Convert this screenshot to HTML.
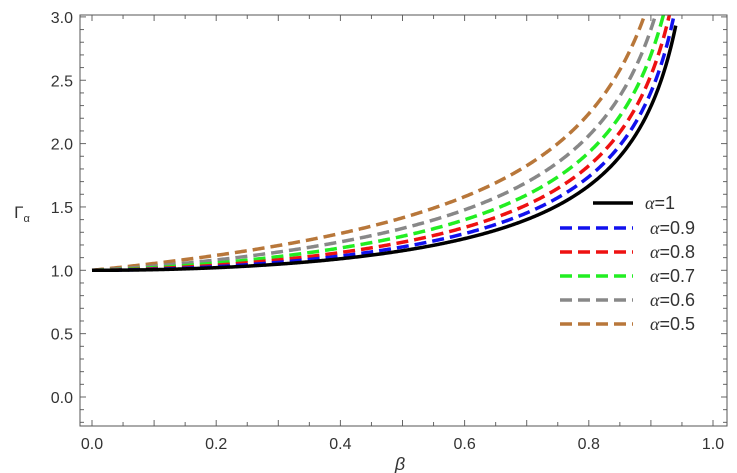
<!DOCTYPE html>
<html><head><meta charset="utf-8"><style>
html,body{margin:0;padding:0;background:#fff;width:737px;height:473px;overflow:hidden}
svg text{font-family:"Liberation Sans",sans-serif;fill:#333}
</style></head><body>
<svg id="s" width="737" height="473" xmlns="http://www.w3.org/2000/svg">
<rect x="0" y="0" width="737" height="473" fill="#fff"/>
<defs><clipPath id="c"><rect x="80" y="15" width="647" height="411"/></clipPath></defs>
<g id="ticks" stroke="#666" stroke-width="1"></g>
<g id="curves" clip-path="url(#c)" fill="none"></g>
<rect x="80" y="15" width="647" height="411" fill="none" stroke="#555" stroke-width="1"/>
<g font-size="16" text-anchor="end" id="yl"></g>
<g font-size="16" text-anchor="middle" id="xl"></g>
<text x="400" y="470" font-size="18" font-style="italic" text-anchor="middle" font-family="Liberation Serif">β</text>
<text x="22" y="218" font-size="17" text-anchor="middle">Γ<tspan font-size="11" dy="4">α</tspan></text>
<g id="leg" font-size="18"></g>
</svg>
<script>
var X=function(b){return 92+b*621},Y=function(v){return 397-v*126.7};
var NS="http://www.w3.org/2000/svg";
function el(t,a,p){var e=document.createElementNS(NS,t);for(var k in a)e.setAttribute(k,a[k]);document.getElementById(p).appendChild(e);return e;}
var series=[[0.5,"#b8773a"],[0.6,"#888"],[0.7,"#22ee22"],[0.8,"#ee1111"],[0.9,"#1111ee"],[1,"#000"]];
series.forEach(function(s){var a=s[0],d="";for(var i=0;i<=600;i++){var b=i/600*0.94;var v=1/Math.sqrt(1-Math.pow(b,2*a));if(v>3.3)break;d+=(i?"L":"M")+X(b).toFixed(2)+","+Y(v).toFixed(2);}
var at={d:d,stroke:s[1],"stroke-width":3.5};if(a<1)at["stroke-dasharray"]="12,6";el("path",at,"curves");});
for(var i=0;i<=20;i++){var b=i*0.05,x=X(b),L=i%2==0?6:4;el("line",{x1:x,y1:426,x2:x,y2:426-L},"ticks");el("line",{x1:x,y1:15,x2:x,y2:15+L},"ticks");}
for(var i=-2;i<=30;i++){var v=i*0.1,y=Y(v);if(y<15||y>426)continue;var L=i%5==0?6:4;el("line",{x1:80,y1:y,x2:80+L,y2:y},"ticks");el("line",{x1:727,y1:y,x2:727-L,y2:y},"ticks");}
for(var i=0;i<=6;i++){var v=i*0.5;var t=el("text",{x:73,y:Y(v)+6},"yl");t.textContent=v.toFixed(1);}
for(var i=0;i<=5;i++){var b=i*0.2;var t=el("text",{x:X(b),y:449},"xl");t.textContent=b.toFixed(1);}
var leg=[["α=1","#000",203,false,645],["α=0.9","#1111ee",228,true,650],["α=0.8","#ee1111",252,true,650],["α=0.7","#22ee22",276,true,650],["α=0.6","#888",300,true,650],["α=0.5","#b8773a",324,true,650]];
leg.forEach(function(l){var a={x1:l[3]?560:593,x2:633,y1:l[2],y2:l[2],stroke:l[1],"stroke-width":3.5};if(l[3])a["stroke-dasharray"]="12,6";el("line",a,"leg");
var t=el("text",{x:l[4],y:l[2]+6},"leg");t.innerHTML='<tspan font-style="italic" font-family="Liberation Serif">α</tspan>'+l[0].slice(1);});
</script>
</body></html>
